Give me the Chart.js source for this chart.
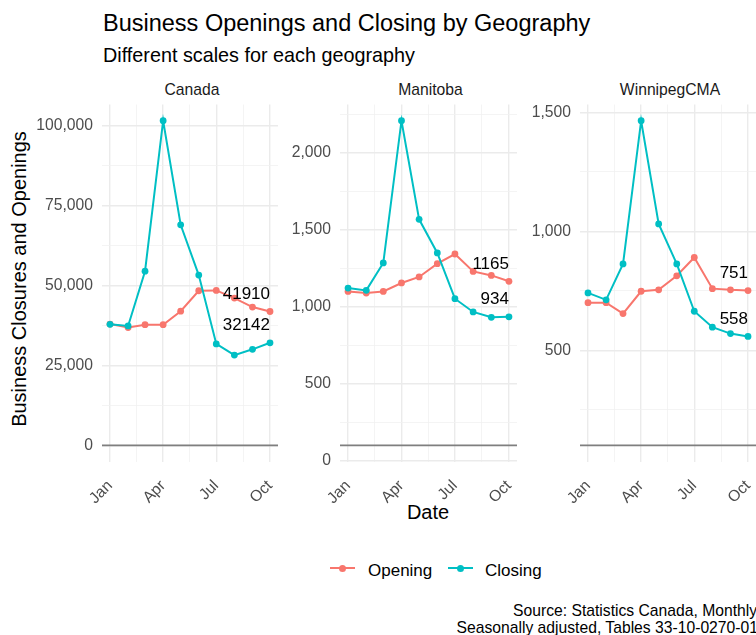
<!DOCTYPE html>
<html>
<head>
<meta charset="utf-8">
<script src="https://cdn.jsdelivr.net/npm/chart.js@4.4.1/dist/chart.umd.min.js"></script>
<style>
	body { margin: 0; width: 756px; height: 635px; overflow: hidden; position: relative; background: #fff; font-family: "Liberation Sans", Arial, sans-serif; }
	.txt { position: absolute; white-space: nowrap; line-height: 1; }
	.strip { position: absolute; white-space: nowrap; line-height: 1; font-size: 15.7px; color: #1a1a1a; transform: translateX(-50%); }
	canvas { position: absolute; }
	.key-line { position: absolute; height: 2px; width: 25px; }
	.key-dot { position: absolute; width: 7px; height: 7px; border-radius: 50%; }
</style>
</head>
<body>

<div class="txt" style="left: 103px; top: 11.8px; font-size: 23.5px; color: #000;">Business Openings and Closing by Geography</div>
<div class="txt" style="left: 103px; top: 45.6px; font-size: 19.8px; color: #000;">Different scales for each geography</div>

<div class="strip" style="left: 192px; top: 81.7px;">Canada</div>
<div class="strip" style="left: 430.5px; top: 81.7px;">Manitoba</div>
<div class="strip" style="left: 670px; top: 81.7px;">WinnipegCMA</div>

<div class="txt" style="left: 19px; top: 279px; font-size: 20px; color: #000; transform: translate(-50%, -50%) rotate(-90deg);">Business Closures and Openings</div>
<div class="txt" style="left: 428px; top: 502px; font-size: 20px; color: #000; transform: translateX(-50%);">Date</div>

<canvas id="chart-canada" width="282" height="412" style="left: 0px; top: 100px;"></canvas>
<canvas id="chart-manitoba" width="231" height="412" style="left: 290px; top: 100px;"></canvas>
<canvas id="chart-winnipeg" width="231" height="412" style="left: 529px; top: 100px;"></canvas>

<!-- legend -->
<div class="key-line" style="left: 330px; top: 567.3px; background: #F8766D;"></div>
<div class="key-dot" style="left: 339px; top: 564.8px; background: #F8766D;"></div>
<div class="txt" style="left: 368px; top: 561.6px; font-size: 17px; color: #000;">Opening</div>
<div class="key-line" style="left: 448px; top: 567.3px; background: #00BFC4;"></div>
<div class="key-dot" style="left: 456.5px; top: 564.8px; background: #00BFC4;"></div>
<div class="txt" style="left: 485px; top: 561.6px; font-size: 17px; color: #000;">Closing</div>

<!-- caption, cut off at the right edge like the original -->
<div class="txt" style="left: 513px; top: 603.4px; font-size: 15.7px; color: #000;">Source: Statistics Canada, Monthly</div>
<div class="txt" style="left: 456.5px; top: 620px; font-size: 15.7px; color: #000;">Seasonally adjusted, Tables 33-10-0270-01</div>

<script>
var months = ["2020-01-01", "2020-02-01", "2020-03-01", "2020-04-01", "2020-05-01", "2020-06-01", "2020-07-01", "2020-08-01", "2020-09-01", "2020-10-01"];
var tick_dates = ["2020-01-01", "2020-04-01", "2020-07-01", "2020-10-01"];
var tick_labels = ["Jan", "Apr", "Jul", "Oct"];

var canada_opening = [38000, 36900, 37800, 37800, 42000, 48400, 48500, 46100, 43300, 41910];
var canada_closing = [37900, 37400, 54500, 101500, 69000, 53300, 31800, 28300, 30100, 32142];
var manitoba_opening = [1099, 1089, 1099, 1154, 1193, 1279, 1342, 1229, 1203, 1165];
var manitoba_closing = [1121, 1106, 1284, 2207, 1567, 1349, 1052, 966, 931, 934];
var winnipeg_opening = [700, 700, 654, 748, 754, 813, 890, 759, 754, 751];
var winnipeg_closing = [741, 712, 863, 1465, 1031, 863, 664, 597, 570, 558];

// reference line drawn in every panel
var hline_value = 100;

var color_opening = "#F8766D";
var color_closing = "#00BFC4";
var font_family = "'Liberation Sans', Arial, sans-serif";

function day_of(d) {
	return (Date.parse(d) - Date.parse(months[0])) / 864e5;
}

var x_values = months.map(day_of);
var x_major = tick_dates.map(day_of);
var x_ticks = [];
for (let i = 0; i < x_major.length; i++) {
	x_ticks.push(x_major[i]);
	if (i < x_major.length - 1) x_ticks.push((x_major[i] + x_major[i + 1]) / 2);
}
var x_span = x_values[x_values.length - 1] - x_values[0];

var overlay = {
	id: "overlay",
	beforeDatasetsDraw: function(chart) {
		var ctx = chart.ctx, a = chart.chartArea;
		var py = chart.scales.y.getPixelForValue(hline_value);
		ctx.save();
		ctx.strokeStyle = "#7f7f7f";
		ctx.lineWidth = 1.6;
		ctx.beginPath();
		ctx.moveTo(a.left, py);
		ctx.lineTo(a.right, py);
		ctx.stroke();
		ctx.restore();
	},
	afterDatasetsDraw: function(chart) {
		var ctx = chart.ctx;
		ctx.save();
		ctx.font = "17px " + font_family;
		ctx.fillStyle = "#000";
		ctx.textAlign = "right";
		ctx.textBaseline = "alphabetic";
		chart.data.datasets.forEach(function(ds, i) {
			var pts = chart.getDatasetMeta(i).data;
			var last = pts[pts.length - 1];
			ctx.fillText(String(ds.data[ds.data.length - 1].y), last.x, last.y - 12.5);
		});
		ctx.restore();
	}
};

function draw_panel(id, opening, closing, step, y_width) {
	var top_value = Math.max.apply(null, opening.concat(closing));
	var range = top_value - hline_value;
	var y_min = hline_value - range * 0.05;
	var y_max = top_value + range * 0.05;

	var y_ticks = [];
	for (let k = Math.ceil(y_min / (step / 2)); k * step / 2 <= y_max; k++) {
		y_ticks.push((k * step / 2) || 0);
	}

	function is_major_y(v) { return v % step === 0; }
	function is_major_x(v) { return x_major.indexOf(v) >= 0; }

	new Chart(document.getElementById(id), {
		type: "line",
		data: {
			datasets: [
				{
					label: "Closing",
					data: x_values.map(function(x, i) { return {x: x, y: closing[i]}; }),
					borderColor: color_closing,
					backgroundColor: color_closing,
					borderWidth: 2,
					pointRadius: 3.4,
					pointBorderWidth: 0,
					order: 0
				},
				{
					label: "Opening",
					data: x_values.map(function(x, i) { return {x: x, y: opening[i]}; }),
					borderColor: color_opening,
					backgroundColor: color_opening,
					borderWidth: 2,
					pointRadius: 3.4,
					pointBorderWidth: 0,
					order: 1
				}
			]
		},
		options: {
			responsive: false,
			animation: false,
			layout: { padding: { top: 4.5, left: 0, right: 0, bottom: 0 } },
			plugins: { legend: { display: false }, tooltip: { enabled: false } },
			scales: {
				x: {
					type: "linear",
					min: x_values[0] - x_span * 0.05,
					max: x_values[x_values.length - 1] + x_span * 0.05,
					afterBuildTicks: function(s) { s.ticks = x_ticks.map(function(v) { return {value: v}; }); },
					afterFit: function(s) { s.height = 50.4; s.paddingLeft = 0; s.paddingRight = 0; },
					border: { display: false },
					grid: {
						drawTicks: false,
						color: function(c) { return c.tick && is_major_x(c.tick.value) ? "#ebebeb" : "#f1f1f1"; },
						lineWidth: function(c) { return c.tick && is_major_x(c.tick.value) ? 1.4 : 0.8; }
					},
					ticks: {
						autoSkip: false,
						maxRotation: 45,
						minRotation: 45,
						padding: 15,
						color: "#4d4d4d",
						font: { family: font_family, size: 15.7 },
						callback: function(v) {
							var i = x_major.indexOf(v);
							return i >= 0 ? tick_labels[i] : "";
						}
					}
				},
				y: {
					min: y_min,
					max: y_max,
					afterBuildTicks: function(s) { s.ticks = y_ticks.map(function(v) { return {value: v}; }); },
					afterFit: function(s) { s.width = y_width; s.paddingTop = 0; s.paddingBottom = 0; },
					border: { display: false },
					grid: {
						drawTicks: false,
						color: function(c) { return c.tick && is_major_y(c.tick.value) ? "#ebebeb" : "#f1f1f1"; },
						lineWidth: function(c) { return c.tick && is_major_y(c.tick.value) ? 1.4 : 0.8; }
					},
					ticks: {
						autoSkip: false,
						padding: 9,
						color: "#4d4d4d",
						font: { family: font_family, size: 15.7 },
						callback: function(v) { return is_major_y(v) ? v.toLocaleString("en-US") : ""; }
					}
				}
			}
		},
		plugins: [overlay]
	});
}

draw_panel("chart-canada", canada_opening, canada_closing, 25000, 102);
draw_panel("chart-manitoba", manitoba_opening, manitoba_closing, 500, 50);
draw_panel("chart-winnipeg", winnipeg_opening, winnipeg_closing, 500, 51);
</script>
</body>
</html>
